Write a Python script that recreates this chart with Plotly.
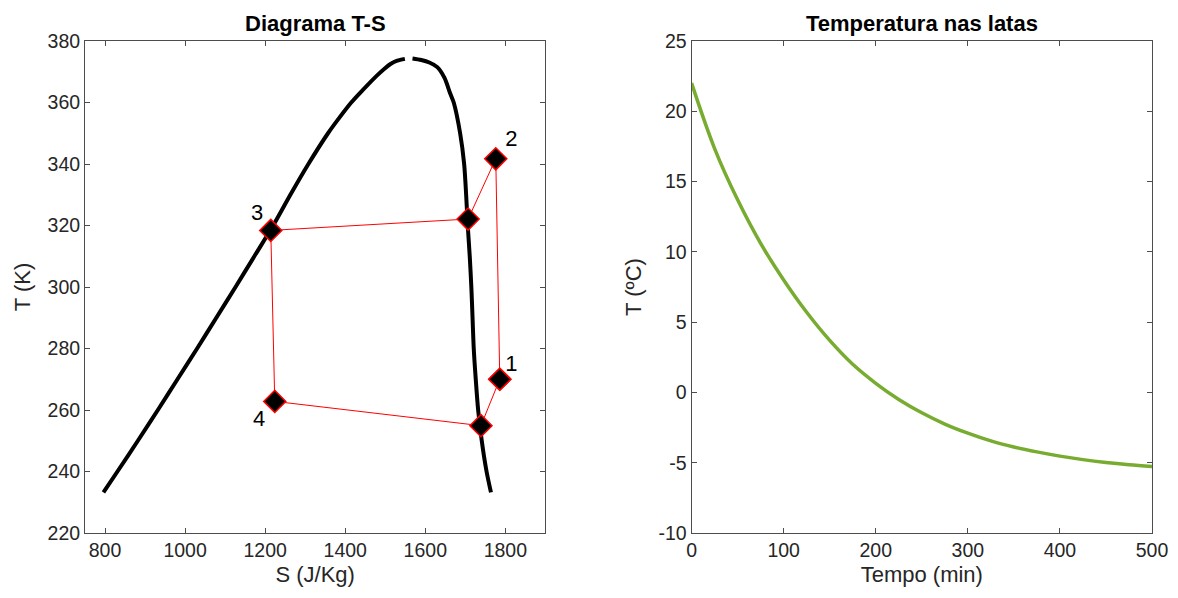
import plotly.graph_objects as go
from plotly.subplots import make_subplots

# Saturation dome (liquid side)
liq_S = [796, 831, 882, 932, 981, 1030, 1078, 1126, 1173, 1220, 1263, 1308, 1357, 1385, 1415, 1436, 1458, 1481, 1498, 1513, 1530, 1549]
liq_T = [233.2, 240, 250, 260, 270, 280, 290, 300, 310, 320, 330, 340, 350, 355, 360, 363, 366, 369, 371, 372.5, 373.6, 374.2]
# Saturation dome (vapour side)
vap_S = [1568, 1590, 1610, 1630, 1648, 1662, 1671, 1687, 1697, 1702, 1706, 1711, 1715, 1718, 1721, 1726, 1732, 1741, 1753, 1764]
vap_T = [374.3, 373.8, 373.0, 371.5, 368, 363, 360, 350, 340, 330, 320, 310, 300, 290, 280, 270, 260, 250, 240, 233.2]

# Refrigeration cycle points (path order)
cyc_S = [1786, 1776, 1707, 1214, 1224, 1739, 1786]
cyc_T = [270, 341.7, 322.1, 318.4, 262.8, 254.9, 270]

# Point labels
lab_text = ["1", "2", "3", "4"]
lab_S = [1815, 1815, 1180, 1185]
lab_T = [274.5, 347.8, 323.6, 256.6]

# Can temperature over time
tempo = [0, 25, 50, 75, 100, 125, 150, 175, 200, 225, 250, 275, 300, 325, 350, 375, 400, 425, 450, 475, 500]
temp_c = [22.0, 17.35, 13.7, 10.6, 8.0, 5.7, 3.7, 2.0, 0.65, -0.5, -1.45, -2.25, -2.9, -3.45, -3.88, -4.23, -4.53, -4.78, -4.98, -5.14, -5.27]

# Tick labels
ts_ticks = [800, 1000, 1200, 1400, 1600, 1800]
tk_ticks = [220, 240, 260, 280, 300, 320, 340, 360, 380]
tempo_ticks = [0, 100, 200, 300, 400, 500]
tc_ticks = [-10, -5, 0, 5, 10, 15, 20, 25]

FONT = "Liberation Sans, Arial, Helvetica, sans-serif"
TXT = "#262626"

fig = make_subplots(rows=1, cols=2, horizontal_spacing=0.137)

fig.add_trace(go.Scatter(x=liq_S, y=liq_T, mode="lines", line=dict(color="black", width=4, shape="spline", smoothing=0.8),
                         showlegend=False, hoverinfo="skip"), row=1, col=1)
fig.add_trace(go.Scatter(x=vap_S, y=vap_T, mode="lines", line=dict(color="black", width=4, shape="spline", smoothing=0.8),
                         showlegend=False, hoverinfo="skip"), row=1, col=1)
fig.add_trace(go.Scatter(x=cyc_S, y=cyc_T, mode="lines+markers", line=dict(color="red", width=1),
                         marker=dict(symbol="diamond", size=17, color="black", line=dict(color="red", width=1.5)),
                         showlegend=False), row=1, col=1)
fig.add_trace(go.Scatter(x=lab_S, y=lab_T, mode="text", text=lab_text,
                         textfont=dict(family=FONT, size=22, color="black"), showlegend=False), row=1, col=1)

fig.add_trace(go.Scatter(x=tempo, y=temp_c, mode="lines", line=dict(color="#77AC30", width=3.5, shape="spline"),
                         showlegend=False), row=1, col=2)

axis_common = dict(showline=True, linecolor="#4d4d4d", linewidth=1, mirror="ticks", ticks="inside",
                   ticklen=5, tickcolor="#4d4d4d", showgrid=False, zeroline=False,
                   tickfont=dict(family=FONT, size=19.5, color=TXT),
                   title_font=dict(family=FONT, size=22, color=TXT))

fig.update_xaxes(**axis_common)
fig.update_yaxes(**axis_common)

fig.update_xaxes(range=[750, 1900], tickvals=ts_ticks, ticktext=[str(v) for v in ts_ticks],
                 title_text="S (J/Kg)", title_standoff=6, row=1, col=1)
fig.update_yaxes(range=[220, 380], tickvals=tk_ticks, ticktext=[str(v) for v in tk_ticks],
                 title_text="T (K)", title_standoff=10, row=1, col=1)
fig.update_xaxes(range=[0, 500], tickvals=tempo_ticks, ticktext=[str(v) for v in tempo_ticks],
                 title_text="Tempo (min)", title_standoff=6, row=1, col=2)
fig.update_yaxes(range=[-10, 25], tickvals=tc_ticks, ticktext=[str(v) for v in tc_ticks],
                 title_text="T (ºC)", title_standoff=10, row=1, col=2)

fig.update_layout(
    width=1178, height=598,
    margin=dict(l=77, r=34, t=33, b=73),
    plot_bgcolor="white", paper_bgcolor="white",
    font=dict(family=FONT, color=TXT),
    annotations=[
        dict(text="<b>Diagrama T-S</b>", xref="x domain", yref="paper", x=0.5, y=1, yanchor="bottom",
             yshift=3, showarrow=False, font=dict(family=FONT, size=22, color="black")),
        dict(text="<b>Temperatura nas latas</b>", xref="x2 domain", yref="paper", x=0.5, y=1, yanchor="bottom",
             yshift=3, showarrow=False, font=dict(family=FONT, size=22, color="black")),
    ],
)

fig.write_html("out.html")
